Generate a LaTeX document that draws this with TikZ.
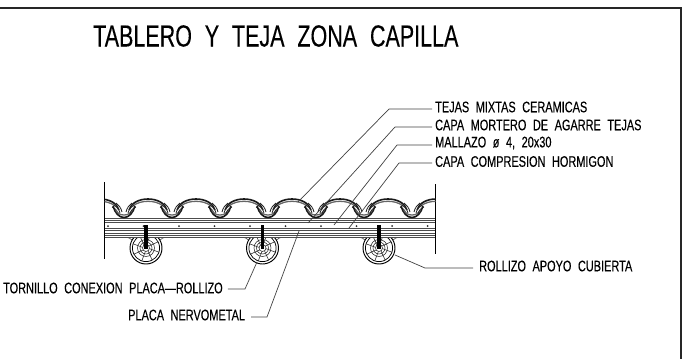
\documentclass[tikz,border=0pt]{standalone}
\usepackage{fontspec}
\setmainfont[FakeStretch=0.715,WordSpace=2.15,FakeBold=0.25]{Liberation Sans}
\newfontfamily\titlefont[FakeStretch=0.705,WordSpace=2.15,FakeBold=0.25]{Liberation Sans}
\tikzset{
  frameline/.style={line width=1.1pt,black!85},
  wall/.style={line width=0.9pt,black},
  layer/.style={line width=0.75pt,black!70},
  layerthin/.style={line width=0.7pt,black!65},
  leader/.style={line width=0.7pt,black!75},
  tile/.style={line width=1.6pt,black!90},
  tileinner/.style={line width=1.3pt,black!60},
  hatch/.style={line width=0.8pt,black!85},
  ring/.style={line width=0.75pt,black},
  thinring/.style={line width=0.55pt,black!85},
  bolt/.style={line width=3.8pt,black},
  lbl/.style={inner sep=0pt,anchor=west,font=\fontsize{15.3}{16}\selectfont,text=black},
  ttl/.style={inner sep=0pt,anchor=west,font=\titlefont\fontsize{30.5}{32}\selectfont,text=black}
}
\begin{document}
\begin{tikzpicture}[x=1pt,y=-1pt]
\useasboundingbox (0,0) rectangle (689,359);
% frame
\draw[frameline] (0,8) -- (681,8) -- (681,359);
% title
\node[ttl] (title) at (93,36) {TABLERO Y TEJA ZONA CAPILLA};
% logs
\foreach \x in {146,262.5,379}{
  \begin{scope}[shift={(\x,248)}]
    \draw[layerthin] (-20,-11) .. controls (-17,-11) and (-16,-9) .. (-14,-8);
    \draw[layerthin] (20,-11) .. controls (17,-11) and (16,-9) .. (14,-8);
    \fill[white] (0,0) circle (16);
    \draw[ring,line width=0.95pt] (0,0) circle (16);
    \draw[ring] (0,0) circle (13.6);
    \draw[thinring] (0,0) circle (8.5);
    \draw[thinring] (0,0) circle (6);
    \draw[thinring] (0,0) circle (3.5);
    \foreach \a in {10,55,100,145,190,235,280,325}{
      \draw[thinring] (\a:3.5) -- (\a+8:13.6);
    }
  \end{scope}
}
% layers
\fill[white] (104.5,218) rectangle (435.5,237);
\foreach \y in {218,220.5,222.5,228.5,230.5,233,235,237.2}{
  \draw[layer] (104.5,\y) -- (435.5,\y);
}
\foreach \x in {108,143.5,179,214.5,250,285.5,321,356.5,392,427.5}{
  \fill[black!85] (\x,226) circle (1);
}
\foreach \x in {146,262.5,379}{
  \draw[bolt] (\x,225) -- (\x,249);
}
% walls
\draw[wall] (104.5,182) -- (104.5,259);
\draw[wall] (435.7,184) -- (435.7,254);
% tiles
\begin{scope}
\clip (104.5,190) rectangle (435.7,225);
\foreach \c in {100,148,196,244,292,340,388,436}{
  \draw[tile] (\c-19,210) .. controls (\c-17,203) and (\c-9,199) .. (\c,199)
              .. controls (\c+9,199) and (\c+17,203) .. (\c+19,210);
  \draw[tileinner] (\c-15,206) .. controls (\c-11,202.5) and (\c-5,201.3) .. (\c,201.3)
              .. controls (\c+5,201.3) and (\c+11,202.5) .. (\c+15,206);
  % overlap hatch
  \draw[hatch] (\c-22,212) .. controls (\c-21,208) and (\c-19,205) .. (\c-16,203);
  \draw[hatch] (\c-20,213) .. controls (\c-19,209) and (\c-17,207) .. (\c-14,205);
  \draw[hatch] (\c-18,214) .. controls (\c-17,210) and (\c-15,208) .. (\c-12,207);
  \draw[hatch] (\c+22,212) .. controls (\c+21,208) and (\c+19,205) .. (\c+16,203);
  \draw[hatch] (\c+20,213) .. controls (\c+19,209) and (\c+17,207) .. (\c+14,205);
  \draw[hatch] (\c+18,214) .. controls (\c+17,210) and (\c+15,208) .. (\c+12,207);
  % valley tile
  \draw[tile] (\c+13,206) .. controls (\c+15,213) and (\c+19,217.5) .. (\c+24,217.5)
              .. controls (\c+29,217.5) and (\c+33,213) .. (\c+35,206);
  \draw[tileinner] (\c+16,210.5) .. controls (\c+18,213.5) and (\c+20,215) .. (\c+24,215)
              .. controls (\c+28,215) and (\c+30,213.5) .. (\c+32,210.5);
}
\end{scope}
% labels
\node[lbl] (tejas) at (435,107) {TEJAS MIXTAS CERAMICAS};
\node[lbl] (mortero) at (435,125) {CAPA MORTERO DE AGARRE TEJAS};
\node[lbl] (mallazo) at (435,143) {MALLAZO ø 4, 20x30};
\node[lbl] (compresion) at (435,161.5) {CAPA COMPRESION HORMIGON};
\node[lbl] (tornillo) at (3,288) {TORNILLO CONEXION PLACA---ROLLIZO};
\node[lbl] (placa) at (128,315) {PLACA NERVOMETAL};
\node[lbl] (rollizo) at (479,266) {ROLLIZO APOYO CUBIERTA};
% leader targets
\coordinate (tTeja) at (298,202);
\coordinate (tMort) at (308,223);
\coordinate (tMall) at (334,225);
\coordinate (tComp) at (349,228);
\coordinate (tPlaca) at (299,231);
\coordinate (tTorn) at (257,262);
\coordinate (tRoll) at (395,255);
\draw[leader] (tejas.west) ++(-3,2) -- (389,109) -- (tTeja);
\draw[leader] (mortero.west) ++(-3,2) -- (395,127) -- (tMort);
\draw[leader] (mallazo.west) ++(-3,2) -- (397,145) -- (tMall);
\draw[leader] (compresion.west) ++(-3,1.5) -- (399,163) -- (tComp);
\draw[leader] (tornillo.east) ++(5,1) -- (245,289) -- (tTorn);
\draw[leader] (placa.east) ++(6,2) -- (267,317) -- (tPlaca);
\draw[leader] (rollizo.west) ++(-6,2) -- (425,268) -- (tRoll);
\end{tikzpicture}
\end{document}
